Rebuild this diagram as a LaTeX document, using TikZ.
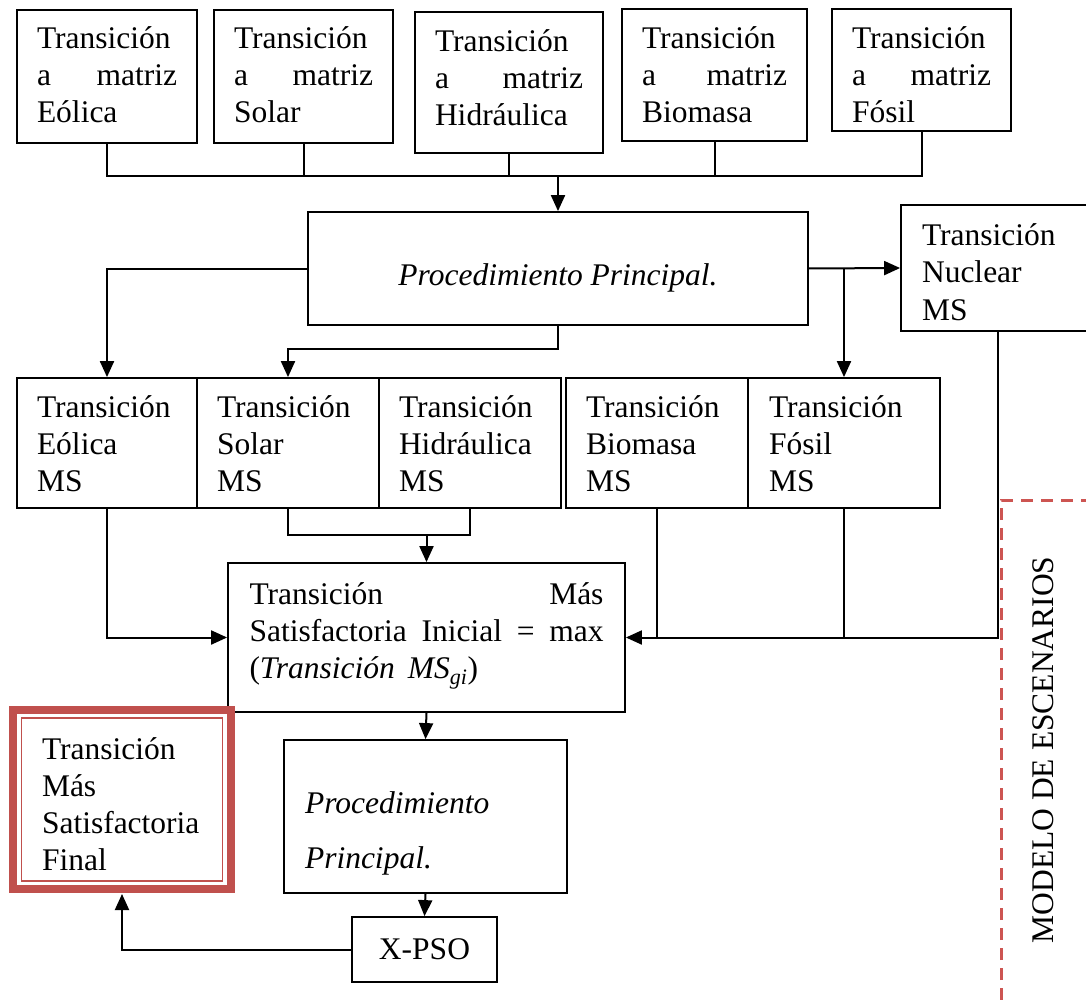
\documentclass[tikz,border=0pt]{standalone}
\usepackage{fontspec}
\setmainfont{Liberation Serif}
\usetikzlibrary{arrows.meta}
\definecolor{accent}{HTML}{C0504D}
\definecolor{dashred}{RGB}{205,85,82}
% box body: width, height, first-baseline offset, lines
\newcommand\cellbody[4]{\parbox[c][#2pt][t]{#1pt}{\rule{0pt}{#3pt}#4}}
\newcommand\spread[1]{\makebox[\linewidth][s]{#1}}
\tikzset{
  box/.style={draw, line width=1.8pt, inner sep=0pt, font=\fontsize{31.5}{37}\selectfont},
  link/.style={line width=2pt},
  arr/.style={link, -{Triangle[length=16pt,width=14pt]}},
}
\begin{document}
\begin{tikzpicture}[x=1pt, y=-1pt]
\fill[white] (0,0) rectangle (1086,1000);
\useasboundingbox (0,0) rectangle (1086,1000);

% top row: source matrices
\node[box, minimum width=180pt] (b1) at (107,76.5)
  {\cellbody{140}{133}{39}{Transición\\\spread{a matriz}\\Eólica}};
\node[box, minimum width=179pt] (b2) at (303.5,76.5)
  {\cellbody{139}{133}{39}{Transición\\\spread{a matriz}\\Solar}};
\node[box, minimum width=188pt] (b3) at (509,82.5)
  {\cellbody{148}{141}{40}{Transición\\\spread{a matriz}\\Hidráulica}};
\node[box, minimum width=185pt] (b4) at (714.5,75)
  {\cellbody{145}{132}{40}{Transición\\\spread{a matriz}\\Biomasa}};
\node[box, minimum width=179pt] (b5) at (921.5,70)
  {\cellbody{139}{122}{40}{Transición\\\spread{a matriz}\\Fósil}};

% main procedure
\node[box, minimum width=500pt] (pp) at (558,268.5)
  {\parbox[c][113pt][t]{460pt}{\centering\rule{0pt}{73pt}\itshape Procedimiento Principal.}};
\node[box, minimum width=194pt] (nuc) at (998,268)
  {\cellbody{152}{126}{41}{Transición\\Nuclear\\MS}};

% middle row: scenario transitions
\node[box, minimum width=180pt] (eol) at (107,443)
  {\cellbody{140}{130}{39}{Transición\\Eólica\\MS}};
\node[box, minimum width=182pt] (sol) at (288,443)
  {\cellbody{142}{130}{39}{Transición\\Solar\\MS}};
\node[box, minimum width=182pt] (hid) at (470,443)
  {\cellbody{142}{130}{39}{Transición\\Hidráulica\\MS}};
\node[box, minimum width=182pt] (bio) at (657,443)
  {\cellbody{142}{130}{39}{Transición\\Biomasa\\MS}};
\node[box, minimum width=192pt] (fos) at (844,443)
  {\cellbody{150}{130}{39}{Transición\\Fósil\\MS}};

% initial most satisfactory transition
\node[box, minimum width=397pt] (ini) at (426.5,637.5)
  {\cellbody{354}{149}{41}{\spread{Transición Más}\\\spread{Satisfactoria Inicial = max}\\(\textit{Transición\, MS}\textsubscript{\textit{gi}})}};

% second procedure and optimiser
\node[box, minimum width=283pt] (pp2) at (425.5,816.5)
  {\parbox[c][153pt][t]{241pt}{\fontsize{31.5}{55}\selectfont\itshape\rule{0pt}{73pt}Procedimiento\\Principal.}};
\node[box, minimum width=145pt, minimum height=65pt] (xpso) at (424.5,949.5) {X-PSO};

% final result, double red frame (anchors sit on the outer edge of the thick band)
\node[box, draw=accent, line width=8pt, minimum width=218pt] (fin) at (122,799.5)
  {\cellbody{160}{179}{49}{Transición\\Más\\Satisfactoria\\Final}};
\draw[accent, line width=1.8pt] ([shift={(12.5,12)}]fin.north west) rectangle ([shift={(-12.5,-12)}]fin.south east);

% connectors
\coordinate (bus) at (558,176);
\foreach \n in {b1,b2,b3,b4,b5} \draw[link] (\n.south) |- (bus);
\draw[arr] (bus) -- (pp.north);
\draw[arr] (pp.west) -| (eol.north);
\draw[arr] (pp.south) -- ++(0,23) -| (sol.north);
\draw[arr] (pp.east) -- (nuc.west);
\coordinate (fork) at (fos.north |- pp.east);
\draw[arr] (fork) -- (fos.north);
\coordinate (join) at (426.5,535);
\draw[link] (sol.south) |- (join);
\draw[link] (hid.south) |- (join);
\draw[arr] (join) -- (ini.north);
\draw[arr] (eol.south) |- (ini.west);
\draw[arr] (nuc.south) |- (ini.east);
\draw[link] (bio.south) -- (bio.south |- ini.east);
\draw[link] (fos.south) -- (fos.south |- ini.east);
\draw[arr] (ini.south) -- (pp2.north);
\draw[arr] (pp2.south) -- (xpso.north);
\draw[arr, shorten >=1pt] (xpso.west) -| (fin.south);

% scenario model frame
\draw[dashred, line width=3pt, dash pattern=on 12pt off 8pt] (1001,1000) -- (1001,500) -- (1090,500);
\node[rotate=90, font=\fontsize{31.5}{37}\selectfont] (mde) at (1043,750) {MODELO DE ESCENARIOS};
\end{tikzpicture}
\end{document}
